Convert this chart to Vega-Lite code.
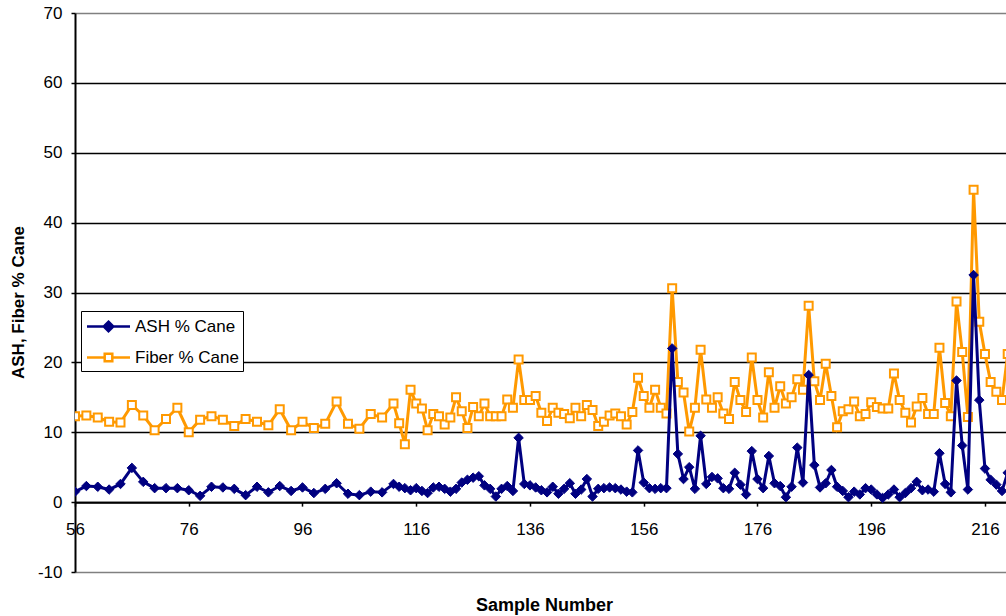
{
  "$schema": "https://vega.github.io/schema/vega-lite/v6.json",
  "width": 931,
  "height": 559,
  "autosize": {"type": "none"},
  "padding": {"left": 75, "top": 13, "right": 0, "bottom": 44},
  "background": "white",
  "config": {
    "font": "Liberation Sans",
    "view": {"stroke": null},
    "axis": {"labelFont": "Liberation Sans", "titleFont": "Liberation Sans", "labelColor": "black", "titleColor": "black", "tickColor": "black", "domainColor": "black"}
  },
  "data": {"values": [
    {"s":56,"ash":1.5,"fiber":12.3},{"s":58,"ash":2.3,"fiber":12.4},{"s":60,"ash":2.2,"fiber":12.1},{"s":62,"ash":1.8,"fiber":11.5},
    {"s":64,"ash":2.6,"fiber":11.4},{"s":66,"ash":4.9,"fiber":13.9},{"s":68,"ash":2.9,"fiber":12.4},{"s":70,"ash":2.0,"fiber":10.3},
    {"s":72,"ash":2.0,"fiber":11.9},{"s":74,"ash":2.0,"fiber":13.5},{"s":76,"ash":1.7,"fiber":10.0},{"s":78,"ash":0.9,"fiber":11.8},
    {"s":80,"ash":2.2,"fiber":12.3},{"s":82,"ash":2.1,"fiber":11.8},{"s":84,"ash":1.9,"fiber":10.9},{"s":86,"ash":1.0,"fiber":11.9},
    {"s":88,"ash":2.2,"fiber":11.5},{"s":90,"ash":1.4,"fiber":11.0},{"s":92,"ash":2.3,"fiber":13.3},{"s":94,"ash":1.6,"fiber":10.3},
    {"s":96,"ash":2.1,"fiber":11.5},{"s":98,"ash":1.3,"fiber":10.6},{"s":100,"ash":1.9,"fiber":11.2},{"s":102,"ash":2.7,"fiber":14.4},
    {"s":104,"ash":1.2,"fiber":11.2},{"s":106,"ash":1.0,"fiber":10.5},{"s":108,"ash":1.5,"fiber":12.6},{"s":110,"ash":1.4,"fiber":12.1},
    {"s":112,"ash":2.6,"fiber":14.1},{"s":113,"ash":2.2,"fiber":11.3},{"s":114,"ash":2.0,"fiber":8.3},{"s":115,"ash":1.7,"fiber":16.1},
    {"s":116,"ash":2.0,"fiber":14.1},{"s":117,"ash":1.6,"fiber":13.4},{"s":118,"ash":1.3,"fiber":10.3},{"s":119,"ash":2.1,"fiber":12.6},
    {"s":120,"ash":2.2,"fiber":12.3},{"s":121,"ash":1.9,"fiber":11.1},{"s":122,"ash":1.5,"fiber":12.1},{"s":123,"ash":1.9,"fiber":15.0},
    {"s":124,"ash":2.8,"fiber":13.0},{"s":125,"ash":3.2,"fiber":10.6},{"s":126,"ash":3.5,"fiber":13.6},{"s":127,"ash":3.7,"fiber":12.3},
    {"s":128,"ash":2.4,"fiber":14.1},{"s":129,"ash":1.9,"fiber":12.3},{"s":130,"ash":0.8,"fiber":12.3},{"s":131,"ash":1.9,"fiber":12.3},
    {"s":132,"ash":2.3,"fiber":14.7},{"s":133,"ash":1.6,"fiber":13.5},{"s":134,"ash":9.2,"fiber":20.4},{"s":135,"ash":2.6,"fiber":14.6},
    {"s":136,"ash":2.4,"fiber":14.6},{"s":137,"ash":2.1,"fiber":15.2},{"s":138,"ash":1.7,"fiber":12.8},{"s":139,"ash":1.4,"fiber":11.6},
    {"s":140,"ash":2.2,"fiber":13.5},{"s":141,"ash":1.2,"fiber":12.8},{"s":142,"ash":1.9,"fiber":12.6},{"s":143,"ash":2.7,"fiber":12.0},
    {"s":144,"ash":1.2,"fiber":13.5},{"s":145,"ash":1.8,"fiber":12.3},{"s":146,"ash":3.3,"fiber":13.9},{"s":147,"ash":0.8,"fiber":13.2},
    {"s":148,"ash":1.9,"fiber":10.9},{"s":149,"ash":2.0,"fiber":11.5},{"s":150,"ash":2.1,"fiber":12.4},{"s":151,"ash":2.0,"fiber":12.7},
    {"s":152,"ash":1.8,"fiber":12.3},{"s":153,"ash":1.5,"fiber":11.1},{"s":154,"ash":1.4,"fiber":12.9},{"s":155,"ash":7.4,"fiber":17.8},
    {"s":156,"ash":2.8,"fiber":15.2},{"s":157,"ash":2.0,"fiber":13.5},{"s":158,"ash":1.9,"fiber":16.1},{"s":159,"ash":2.0,"fiber":13.5},
    {"s":160,"ash":2.0,"fiber":12.7},{"s":161,"ash":22.0,"fiber":30.6},{"s":162,"ash":6.9,"fiber":17.2},{"s":163,"ash":3.3,"fiber":15.7},
    {"s":164,"ash":5.0,"fiber":10.1},{"s":165,"ash":1.9,"fiber":13.5},{"s":166,"ash":9.5,"fiber":21.8},{"s":167,"ash":2.6,"fiber":14.7},
    {"s":168,"ash":3.6,"fiber":13.5},{"s":169,"ash":3.4,"fiber":15.0},{"s":170,"ash":2.0,"fiber":12.7},{"s":171,"ash":1.9,"fiber":11.9},
    {"s":172,"ash":4.2,"fiber":17.2},{"s":173,"ash":2.5,"fiber":14.6},{"s":174,"ash":1.1,"fiber":12.9},{"s":175,"ash":7.3,"fiber":20.7},
    {"s":176,"ash":3.3,"fiber":14.6},{"s":177,"ash":2.0,"fiber":12.1},{"s":178,"ash":6.6,"fiber":18.6},{"s":179,"ash":2.7,"fiber":13.5},
    {"s":180,"ash":2.3,"fiber":16.6},{"s":181,"ash":0.7,"fiber":14.1},{"s":182,"ash":2.2,"fiber":15.0},{"s":183,"ash":7.8,"fiber":17.6},
    {"s":184,"ash":2.8,"fiber":16.1},{"s":185,"ash":18.2,"fiber":28.1},{"s":186,"ash":5.3,"fiber":17.3},{"s":187,"ash":2.1,"fiber":14.6},
    {"s":188,"ash":2.7,"fiber":19.8},{"s":189,"ash":4.6,"fiber":15.2},{"s":190,"ash":2.2,"fiber":10.7},{"s":191,"ash":1.6,"fiber":13.0},
    {"s":192,"ash":0.7,"fiber":13.3},{"s":193,"ash":1.5,"fiber":14.4},{"s":194,"ash":1.1,"fiber":12.3},{"s":195,"ash":2.0,"fiber":12.6},
    {"s":196,"ash":1.8,"fiber":14.3},{"s":197,"ash":1.1,"fiber":13.6},{"s":198,"ash":0.6,"fiber":13.4},{"s":199,"ash":1.1,"fiber":13.4},
    {"s":200,"ash":1.8,"fiber":18.4},{"s":201,"ash":0.7,"fiber":14.6},{"s":202,"ash":1.3,"fiber":12.8},{"s":203,"ash":2.0,"fiber":11.4},
    {"s":204,"ash":2.9,"fiber":13.7},{"s":205,"ash":1.7,"fiber":14.9},{"s":206,"ash":1.8,"fiber":12.6},{"s":207,"ash":1.5,"fiber":12.6},
    {"s":208,"ash":7.0,"fiber":22.1},{"s":209,"ash":2.6,"fiber":14.2},{"s":210,"ash":1.4,"fiber":12.3},{"s":211,"ash":17.4,"fiber":28.7},
    {"s":212,"ash":8.1,"fiber":21.5},{"s":213,"ash":1.8,"fiber":12.2},{"s":214,"ash":32.5,"fiber":44.7},{"s":215,"ash":14.6,"fiber":25.8},
    {"s":216,"ash":4.8,"fiber":21.2},{"s":217,"ash":3.2,"fiber":17.2},{"s":218,"ash":2.5,"fiber":15.8},{"s":219,"ash":1.6,"fiber":14.6},
    {"s":220,"ash":4.2,"fiber":21.2}
  ]},
  "encoding": {
    "x": {
      "field": "s", "type": "quantitative",
      "scale": {"domain": [56, 219.7], "nice": false, "zero": false},
      "axis": {
        "values": [56, 76, 96, 116, 136, 156, 176, 196, 216],
        "labelExpr": "'' + datum.value",
        "offset": -69.875, "domainWidth": 2, "tickSize": 4, "tickWidth": 1.5,
        "labelFontSize": 17, "labelPadding": 15, "labelFlush": false, "labelOverlap": false,
        "grid": false,
        "title": "Sample Number", "titleFontSize": 18, "titleFontWeight": "bold",
        "titleX": 469, "titleY": 108, "titleAlign": "center", "titleBaseline": "alphabetic"
      }
    }
  },
  "layer": [
    {
      "mark": {"type": "line", "strokeWidth": 3, "clip": true},
      "encoding": {
        "y": {
          "field": "fiber", "type": "quantitative", "title": "ASH, Fiber % Cane",
          "scale": {"domain": [-10, 70], "nice": false, "zero": false},
          "axis": {
            "values": [-10, 0, 10, 20, 30, 40, 50, 60, 70],
            "labelExpr": "'' + datum.value",
            "domainWidth": 2, "tickSize": 4, "tickWidth": 1.5,
            "labelFontSize": 17, "labelPadding": 9,
            "grid": true, "gridWidth": 1.3,
            "gridColor": {"condition": {"test": "datum.value === 70 || datum.value === -10", "value": "#808080"}, "value": "black"},
            "titleFontSize": 17, "titleFontWeight": "bold",
            "titleX": -57, "titleY": 289, "titleAngle": -90, "titleAlign": "center", "titleBaseline": "middle"
          }
        },
        "stroke": {
          "datum": "Fiber % Cane",
          "scale": {"domain": ["ASH % Cane", "Fiber % Cane"], "range": ["#000080", "#FF9900"]},
          "legend": {
            "title": null, "orient": "none", "legendX": 6, "legendY": 298,
            "padding": 4, "strokeColor": "black", "fillColor": "white",
            "symbolSize": 400, "symbolStrokeWidth": 2.5, "symbolOffset": 12,
            "labelOffset": 15, "rowPadding": 9,
            "labelFontSize": 17, "labelFont": "Liberation Sans", "labelColor": "black", "labelLimit": 0,
            "encode": {"symbols": {"update": {
              "shape": {"signal": "datum.value === 'ASH % Cane' ? 'M-2.15,0H2.15M0,-0.48L0.48,0L0,0.48L-0.48,0Z' : 'M-2.15,0H-0.38M0.38,0H2.15M-0.38,-0.38H0.38V0.38H-0.38Z'"},
              "fill": {"signal": "datum.value === 'ASH % Cane' ? '#000080' : '#FFFFFF'"},
              "fillOpacity": {"value": 1},
              "stroke": {"signal": "datum.value === 'ASH % Cane' ? '#000080' : '#FF9900'"},
              "strokeWidth": {"value": 2.5},
              "opacity": {"value": 1}
            }}}
          }
        }
      }
    },
    {
      "mark": {"type": "point", "shape": "square", "size": 64, "filled": true, "fill": "white", "strokeWidth": 2, "opacity": 1, "clip": true},
      "encoding": {
        "y": {"field": "fiber", "type": "quantitative", "title": "ASH, Fiber % Cane"},
        "stroke": {"datum": "Fiber % Cane"}
      }
    },
    {
      "mark": {"type": "line", "strokeWidth": 3, "clip": true},
      "encoding": {
        "y": {"field": "ash", "type": "quantitative", "title": "ASH, Fiber % Cane"},
        "stroke": {"datum": "ASH % Cane"}
      }
    },
    {
      "mark": {"type": "point", "shape": "diamond", "size": 90, "filled": true, "fill": "#000080", "strokeWidth": 1, "opacity": 1, "clip": true},
      "encoding": {
        "y": {"field": "ash", "type": "quantitative", "title": "ASH, Fiber % Cane"},
        "stroke": {"datum": "ASH % Cane"}
      }
    }
  ]
}
